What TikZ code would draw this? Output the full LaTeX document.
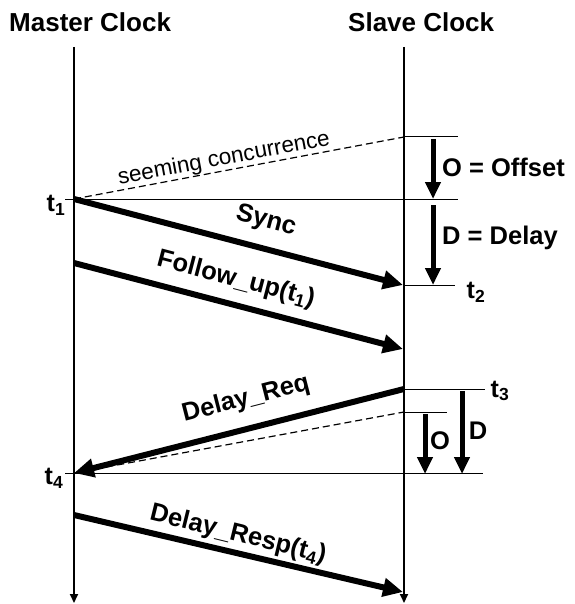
\documentclass[tikz,border=0pt]{standalone}
\usepackage{fontspec}
\setmainfont{Liberation Sans}
\usetikzlibrary{arrows.meta}
\begin{document}
\begin{tikzpicture}[x=1pt,y=-1pt,
  timeline/.style={line width=2pt,-{Triangle[length=9pt,width=8pt]}},
  msg/.style={line width=6pt,-{Triangle[length=20pt,width=18pt]}},
  span/.style={line width=5pt,-{Triangle[length=17pt,width=15pt]}},
  guide/.style={line width=1pt},
  seem/.style={line width=1.2pt,dash pattern=on 7pt off 4pt},
  title/.style={font=\bfseries\fontsize{26}{30}\selectfont,inner sep=0pt},
  lbl/.style={font=\bfseries\fontsize{25.5}{28}\selectfont,inner sep=0pt},
  side/.style={font=\bfseries\fontsize{25.5}{28}\selectfont,inner sep=0pt},
  tick/.style={font=\bfseries\fontsize{25}{28}\selectfont,inner sep=0pt},
  thin/.style={font=\fontsize{22.5}{25}\selectfont,inner sep=0pt}]
\useasboundingbox (0,0) rectangle (574,604);

% clock titles
\node[title,anchor=base west] (mtitle) at (9,32) {Master Clock};
\node[title,anchor=base west] (stitle) at (348,32) {Slave Clock};

% time lines
\coordinate (mtop) at (74,47);  \coordinate (mbot) at (74,603);
\coordinate (stop) at (404,47); \coordinate (sbot) at (404,603);
\draw[timeline] (mtop) -- (mbot);
\draw[timeline] (stop) -- (sbot);

% event points
\coordinate (t1) at (74,199);
\coordinate (f0) at (74,263);
\coordinate (t4) at (74,473);
\coordinate (r0) at (74,515);
\coordinate (sc) at (404,137);
\coordinate (t2) at (403,285);
\coordinate (f1) at (403,349);
\coordinate (t3) at (404,389);
\coordinate (sc2) at (404,412);
\coordinate (r1) at (403,592);

% horizontal reference lines
\coordinate (h1a) at (65,199);  \coordinate (h1b) at (458,199);
\coordinate (h0b) at (458,137);
\coordinate (h2a) at (404,285); \coordinate (h2b) at (455,285);
\coordinate (h3b) at (485,389);
\coordinate (h5b) at (447,412);
\coordinate (h4a) at (65,473);  \coordinate (h4b) at (483,473);
\draw[guide] (h1a) -- (h1b);
\draw[guide] (sc) -- (h0b);
\draw[guide] (h2a) -- (h2b);
\draw[guide] (t3) -- (h3b);
\draw[guide] (sc2) -- (h5b);
\draw[guide] (h4a) -- (h4b);

% seeming concurrence lines
\draw[seem] (t1) -- (sc);
\draw[seem] (t4) -- (sc2);
\node[thin,rotate=10.6] (seemlbl) at (224,159) {seeming concurrence};

% messages
\draw[msg] (t1) -- (t2);
\draw[msg] (f0) -- (f1);
\draw[msg] (t3) -- (t4);
\draw[msg] (r0) -- (r1);
\node[lbl,rotate=-14.7] (synclbl) at (266,221) {Sync};
\node[lbl,rotate=-14.7] (follbl) at (236,280) {Follow\_up(t\textsubscript{1})};
\node[lbl,rotate=14.4] (reqlbl) at (246,399) {Delay\_Req};
\node[lbl,rotate=-13.8] (resplbl) at (238,535) {Delay\_Resp(t\textsubscript{4})};

% offset and delay spans
\coordinate (o1a) at (433,139); \coordinate (o1b) at (433,199);
\coordinate (d1a) at (433,205); \coordinate (d1b) at (433,285);
\coordinate (o2a) at (425,414); \coordinate (o2b) at (425,474);
\coordinate (d2a) at (462,391); \coordinate (d2b) at (462,474);
\draw[span] (o1a) -- (o1b);
\draw[span] (d1a) -- (d1b);
\draw[span] (o2a) -- (o2b);
\draw[span] (d2a) -- (d2b);
\node[side,anchor=west] (olbl) at (442,167) {O = Offset};
\node[side,anchor=west] (dlbl) at (442,238) {D = Delay};
\node[side] (olbl2) at (440,441) {O};
\node[side] (dlbl2) at (478,431) {D};

% time stamps
\node[tick] (t1lbl) at (56,205) {t\textsubscript{1}};
\node[tick] (t2lbl) at (476,292) {t\textsubscript{2}};
\node[tick] (t3lbl) at (500,391) {t\textsubscript{3}};
\node[tick] (t4lbl) at (54,478) {t\textsubscript{4}};
\end{tikzpicture}
\end{document}
